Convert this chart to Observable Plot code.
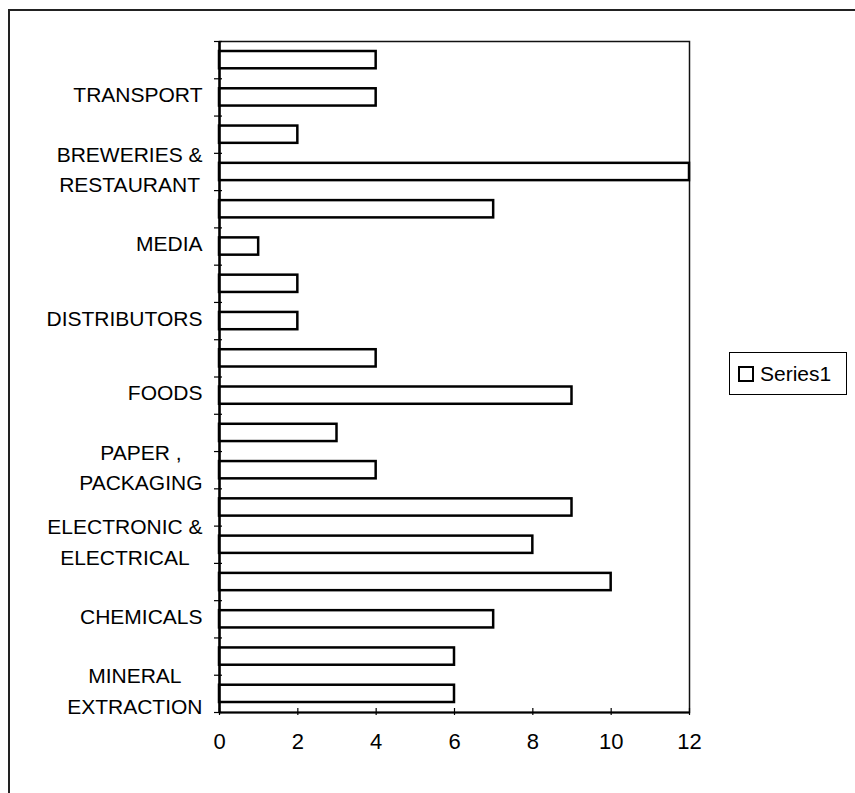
<!DOCTYPE html>
<html>
<head>
<meta charset="utf-8">
<script src="https://cdn.jsdelivr.net/npm/d3@7"></script>
<script src="https://cdn.jsdelivr.net/npm/@observablehq/plot@0.6"></script>
<style>
  html, body { margin: 0; padding: 0; background: #fff; }
  #wrap { position: relative; width: 855px; height: 793px; overflow: hidden; font-family: "Liberation Sans", Arial, sans-serif; }
  #outer { position: absolute; left: 8px; top: 9px; width: 860px; height: 800px; border-top: 2px solid #222; border-left: 2px solid #222; }
  #chart { position: absolute; left: 0; top: 0; }
  #legend { position: absolute; left: 729px; top: 352px; width: 116px; height: 41px; border: 1px solid #000; background: #fff; display: flex; align-items: center; }
  #legend .sw { width: 12px; height: 12px; border: 2.5px solid #000; margin-left: 8px; margin-right: 6px; background: #fff; }
  #legend .lb { font-size: 21px; color: #000; }
</style>
</head>
<body>
<div id="wrap">
  <div id="outer"></div>
  <div id="chart"></div>
  <div id="legend"><div class="sw"></div><div class="lb">Series1</div></div>
</div>
<script>
// Categories listed bottom-to-top (Excel order); only every second category is labelled in the picture.
const categories = [
  "MINERAL\nEXTRACTION", "",
  "CHEMICALS", "",
  "ELECTRONIC &\nELECTRICAL", "",
  "PAPER ,\nPACKAGING", "",
  "FOODS", "",
  "DISTRIBUTORS", "",
  "MEDIA", "",
  "BREWERIES &\nRESTAURANT", "",
  "TRANSPORT", ""
];
const series1 = [6, 6, 7, 10, 8, 9, 4, 3, 9, 4, 2, 2, 1, 7, 12, 2, 4, 4];
const xTicks = [0, 2, 4, 6, 8, 10, 12];
const seriesName = "Series1";

const data = series1.map((v, i) => ({i, value: v, label: categories[i]}));
const boundaries = d3.range(0, categories.length + 1);
const labelled = data.filter(d => d.label !== "");

const plot = Plot.plot({
  width: 855,
  height: 793,
  marginLeft: 219,
  marginRight: 166,
  marginTop: 41,
  marginBottom: 81,
  style: {fontFamily: "'Liberation Sans', Arial, sans-serif", background: "transparent", color: "#000"},
  x: {domain: [0, 12]},
  y: {domain: [0, categories.length]},
  marks: [
    Plot.frame({stroke: "#111", strokeWidth: 1.5}),
    Plot.rect(data, {
      x1: 0, x2: "value",
      y1: d => d.i, y2: d => d.i + 1,
      insetTop: 10, insetBottom: 10,
      fill: "white", stroke: "black", strokeWidth: 2.5
    }),
    Plot.ruleX([0], {stroke: "black", strokeWidth: 2.5}),
    Plot.ruleY([0], {stroke: "black", strokeWidth: 2}),
    // cross ticks on the category axis at band boundaries
    Plot.ruleY(boundaries, {y: d => d, x1: 0, x2: 0, insetLeft: -5, insetRight: -3, stroke: "black", strokeWidth: 1.2}),
    // cross ticks on the value axis
    Plot.ruleX(xTicks, {x: d => d, y1: 0, y2: 0, insetTop: -4, insetBottom: -3, stroke: "black", strokeWidth: 1.2}),
    Plot.axisX({ticks: xTicks, tickSize: 0, tickPadding: 21, fontSize: 22, tickFormat: d => String(d), label: null}),
    Plot.axisY({ticks: [], label: null}),
    Plot.text(labelled, {
      y: d => d.i + 0.5, text: "label",
      frameAnchor: "left", textAnchor: "end", dx: -17, dy: -5,
      fontSize: 21, lineHeight: 1.45, fill: "black"
    })
  ]
});
document.getElementById("chart").appendChild(plot);

// Center the lines of multi-line category labels on each other (as in the original).
plot.querySelectorAll("text").forEach(t => {
  const spans = t.querySelectorAll("tspan");
  if (spans.length > 1) {
    let w = 0;
    spans.forEach(s => { w = Math.max(w, s.getComputedTextLength()); });
    t.setAttribute("text-anchor", "middle");
    t.style.textAnchor = "middle";
    spans.forEach(s => s.setAttribute("x", String(-w / 2)));
  }
});
</script>
</body>
</html>
